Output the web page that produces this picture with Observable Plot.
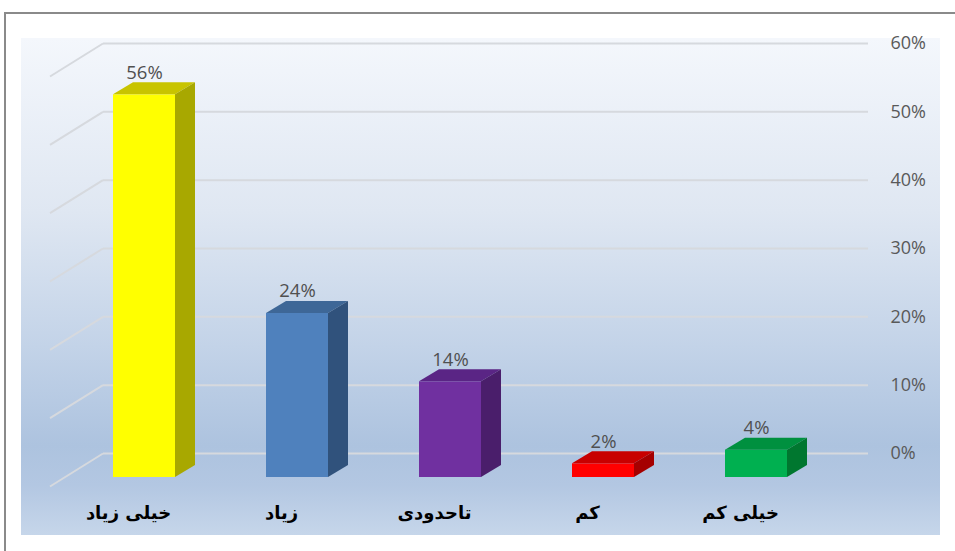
<!DOCTYPE html>
<html><head><meta charset="utf-8">
<script src="https://cdn.jsdelivr.net/npm/d3@7"></script>
<script src="https://cdn.jsdelivr.net/npm/@observablehq/plot@0.6"></script>
<style>
body{margin:0;width:955px;height:551px;overflow:hidden;background:#fff;position:relative}
#frame{position:absolute;left:4px;top:12px;width:1000px;height:600px;border:2px solid #8a8a8a;box-sizing:border-box}
#bg{position:absolute;left:21px;top:38px;width:919px;height:497px;
 background:linear-gradient(to bottom,#f4f7fc 0%,#dfe7f2 35%,#c3d3e8 62%,#adc3df 82%,#b3c7e2 90%,#c6d6ea 100%)}
#chart{position:absolute;left:0;top:0}
</style></head><body>
<div id="frame"></div><div id="bg"></div><div id="chart"></div>
<script>
const categories = ["خیلی زیاد", "زیاد", "تاحدودی", "کم", "خیلی کم"];
const values = [56, 24, 14, 2, 4];
const valueLabels = ["56%", "24%", "14%", "2%", "4%"];
const yTicks = [0, 10, 20, 30, 40, 50, 60];
const yTickLabels = ["0%", "10%", "20%", "30%", "40%", "50%", "60%"];

const frontColors = ["#ffff00", "#4f81bd", "#7030a0", "#ff0000", "#00b050"];
const topColors = ["#c8c400", "#3e6797", "#5a2585", "#c80000", "#00903f"];
const sideColors = ["#a8a800", "#30527c", "#4a1e6b", "#a50000", "#00772f"];

const data = categories.map((c, i) => ({category: c, value: values[i], label: valueLabels[i]}));

const DEPTH_X = 20, DEPTH_Y = 12;     // bar depth
const WALL = 24;                      // back wall offset from bar front
const FLOOR_X = 53, FLOOR_Y = 33;     // side wall depth

function extrude(index, scales, vals, dims, ctx, next) {
  const g = next(index, scales, vals, dims, ctx);
  const rects = Array.from(g.querySelectorAll("rect"));
  rects.forEach((r, k) => {
    const i = index[k];
    const x = +r.getAttribute("x"), y = +r.getAttribute("y");
    const w = +r.getAttribute("width"), h = +r.getAttribute("height");
    const top = document.createElementNS("http://www.w3.org/2000/svg", "polygon");
    top.setAttribute("points", `${x},${y} ${x+w},${y} ${x+w+DEPTH_X},${y-DEPTH_Y} ${x+DEPTH_X},${y-DEPTH_Y}`);
    top.setAttribute("fill", topColors[i]);
    top.setAttribute("stroke", "none");
    const side = document.createElementNS("http://www.w3.org/2000/svg", "polygon");
    side.setAttribute("points", `${x+w},${y} ${x+w+DEPTH_X},${y-DEPTH_Y} ${x+w+DEPTH_X},${y+h-DEPTH_Y} ${x+w},${y+h}`);
    side.setAttribute("fill", sideColors[i]);
    side.setAttribute("stroke", "none");
    g.appendChild(top);
    g.appendChild(side);
  });
  return g;
}

function diagonals(index, scales, vals, dims, ctx, next) {
  const g = next(index, scales, vals, dims, ctx);
  Array.from(g.querySelectorAll("line")).forEach((l) => {
    const x1 = +l.getAttribute("x1"), y1 = +l.getAttribute("y1");
    const d = document.createElementNS("http://www.w3.org/2000/svg", "line");
    d.setAttribute("x1", x1); d.setAttribute("y1", y1);
    d.setAttribute("x2", x1 - FLOOR_X); d.setAttribute("y2", y1 + FLOOR_Y);
    g.appendChild(d);
  });
  return g;
}

const chart = Plot.plot({
  width: 955,
  height: 551,
  marginLeft: 103,
  marginRight: 87,
  marginTop: 40,
  marginBottom: 74,
  style: {background: "transparent", fontFamily: "'Open Sans', sans-serif", overflow: "visible"},
  x: {type: "band", domain: categories, range: [66.3, 833.3], paddingInner: 0.596, paddingOuter: 0.298, axis: null},
  y: {domain: [0, 60], range: [477, 67], axis: null},
  color: {domain: categories, range: frontColors},
  marks: [
    Plot.ruleY(yTicks, {y: (d) => d, dy: -WALL, stroke: "#d6d9de", strokeWidth: 2, render: diagonals}),
    Plot.text(yTicks, {y: (d) => d, text: (d, i) => yTickLabels[i], frameAnchor: "right", dx: 22, dy: -WALL,
      textAnchor: "start", fill: "#595959", fontSize: 18}),
    Plot.barY(data, {x: "category", y: "value", fill: "category", render: extrude}),
    Plot.text(data, {x: "category", y: "value", text: "label", dy: -22, fill: "#505050", fontSize: 18.5}),
    Plot.text(data, {x: "category", text: "category", frameAnchor: "bottom", dy: 41, dx: -16,
      fill: "#000", fontSize: 18, fontWeight: "bold", fontFamily: "'DejaVu Sans', sans-serif"})
  ]
});
document.getElementById("chart").appendChild(chart);
</script>
</body></html>
